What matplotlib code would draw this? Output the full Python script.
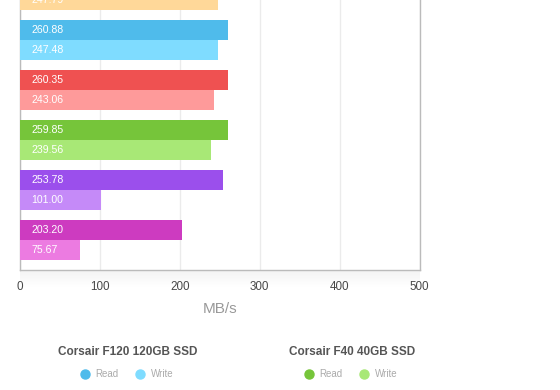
import numpy as np
import matplotlib
matplotlib.use("Agg")
import matplotlib.pyplot as plt
from matplotlib.lines import Line2D

plt.rcParams['font.family'] = ['Liberation Sans', 'DejaVu Sans']

# ---- data ----
drives = ["Drive A", "Corsair F120 120GB SSD", "Drive C",
          "Corsair F40 40GB SSD", "Drive E", "Drive F"]
read_vals = [np.nan, 260.88, 260.35, 259.85, 253.78, 203.20]
write_vals = [247.79, 247.48, 243.06, 239.56, 101.00, 75.67]
read_colors = ["#ffb95a", "#4fbbeb", "#ef5151", "#76c53a", "#9b4fec", "#cd3bc0"]
write_colors = ["#ffd899", "#7fdcff", "#fe9a9a", "#a8e876", "#c58af8", "#ec7be1"]
x_ticks = [0, 100, 200, 300, 400, 500]
x_label = "MB/s"
legend_titles = ["Corsair F120 120GB SSD", "Corsair F40 40GB SSD"]
legend_idx = [1, 3]
item_labels = ["Read", "Write"]

W, H = 560, 390
fig = plt.figure(figsize=(W / 100, H / 100), dpi=100)

# axes geometry in pixels (top extends above the visible area)
left_px, right_px = 20, 419.5
top_px, bottom_px = -40, 269.5

# faint shadow below the plot area
sh = fig.add_axes([left_px / W, 1 - (bottom_px + 18) / H,
                   (right_px - left_px) / W, 18 / H], zorder=0)
grad = np.linspace(0.955, 1.0, 50)[:, None] * np.ones((50, 2))
sh.imshow(grad, cmap="gray", vmin=0, vmax=1, aspect="auto",
          extent=[0, 1, 0, 1], origin="upper")
sh.axis("off")

ax = fig.add_axes([left_px / W, 1 - bottom_px / H,
                   (right_px - left_px) / W, (bottom_px - top_px) / H], zorder=1)

pos = np.arange(len(drives))
bh = 0.4
ax.barh(pos - bh / 2, read_vals, height=bh, color=read_colors, zorder=3)
ax.barh(pos + bh / 2, write_vals, height=bh, color=write_colors, zorder=3)

for i in range(len(drives)):
    for v, y in ((read_vals[i], pos[i] - bh / 2), (write_vals[i], pos[i] + bh / 2)):
        if np.isnan(v):
            continue
        ax.annotate(f"{v:.2f}", xy=(0, y), xytext=(8, 0), textcoords="offset points",
                    ha="left", va="center", color="white", fontsize=7.6, zorder=4)

ax.set_xlim(0, 500)
ax.set_ylim((bottom_px + 10) / 50, (top_px + 10) / 50)
ax.set_xticks(x_ticks)
ax.set_xticklabels([str(t) for t in x_ticks])
ax.set_yticks([])
ax.tick_params(axis="x", length=0, pad=8.4, labelsize=8.4, labelcolor="#484848")
ax.grid(axis="x", color="#ebebeb", linewidth=1.0, zorder=0)
for s in ["left", "bottom", "right", "top"]:
    ax.spines[s].set_color("#bbbbbb")
    ax.spines[s].set_linewidth(1.0)

fig.text(219.6 / W, 1 - 309 / H, x_label, ha="center", va="center",
         fontsize=11, color="#999999")

# legend
title_x = [127.9, 351.8]
for k, idx in enumerate(legend_idx):
    cx = title_x[k]
    fig.text(cx / W, 1 - 352 / H, legend_titles[k], ha="center", va="center",
             fontsize=8.5, fontweight="bold", color="#555555")
    dots = [cx - 43, cx + 12.5]
    cols = [read_colors[idx], write_colors[idx]]
    for j in range(2):
        fig.add_artist(Line2D([dots[j] / W], [1 - 374.3 / H], marker="o",
                              markersize=6.5, color=cols[j], linestyle="none",
                              transform=fig.transFigure))
        fig.text((dots[j] + 10.5) / W, 1 - 374.3 / H, item_labels[j], ha="left",
                 va="center", fontsize=7, color="#aaaaaa")

fig.savefig("out.png", dpi=100)
